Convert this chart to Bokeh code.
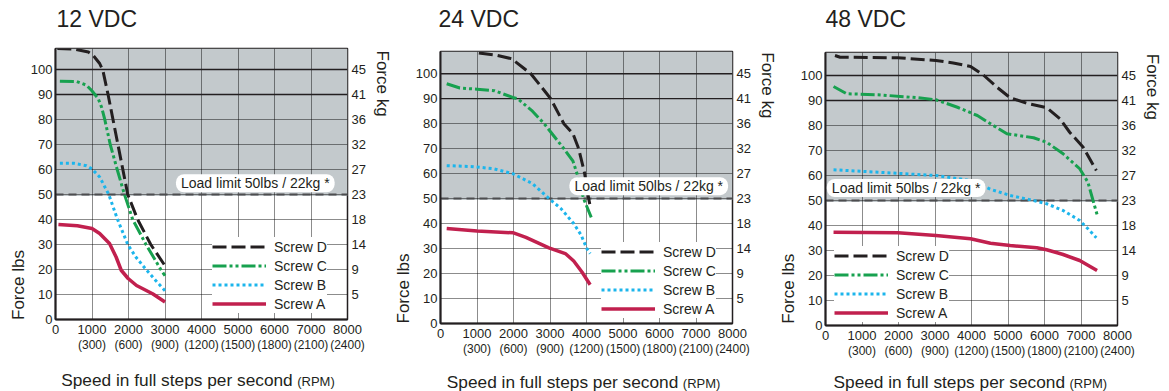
import math
from bokeh.plotting import figure
from bokeh.models import (Range1d, LinearAxis, FixedTicker, Label, Span,
                          Legend, LegendItem, BoxAnnotation)
from bokeh.layouts import row, column
from bokeh.embed import file_html
from bokeh.resources import INLINE

# ---------------- data ----------------
titles = ["12 VDC", "24 VDC", "48 VDC"]
speed_ticks = [0, 1000, 2000, 3000, 4000, 5000, 6000, 7000, 8000]
rpm_ticks = [1000, 2000, 3000, 4000, 5000, 6000, 7000, 8000]
rpm_labels = ["(300)", "(600)", "(900)", "(1200)", "(1500)", "(1800)", "(2100)", "(2400)"]
lbs_ticks = [0, 10, 20, 30, 40, 50, 60, 70, 80, 90, 100]
kg_ticks = [10, 20, 30, 40, 50, 60, 70, 80, 90, 100]
kg_labels = ["5", "9", "14", "18", "23", "27", "32", "36", "41", "45"]
load_limit_lbs = 50
load_limit_text = "Load limit 50lbs / 22kg *"
screw_names = ["Screw D", "Screw C", "Screw B", "Screw A"]
x_label = "Speed in full steps per second"
x_label_unit = "(RPM)"
y_label_left = "Force lbs"
y_label_right = "Force kg"

# 12 VDC
v12_d_speed = [50, 500, 900, 1030, 1210, 1300, 1440, 1575, 1710, 1845, 1980, 2250, 2610, 3000]
v12_d_force = [108.4, 108.2, 107, 105.7, 102.4, 99.5, 90, 80, 70, 60, 50, 40, 30, 21.5]
v12_c_speed = [120, 580, 850, 985, 1170, 1260, 1350, 1500, 1690, 1890, 2115, 2480, 2885, 3000]
v12_c_force = [95.3, 95.2, 93.7, 91.7, 88.4, 85, 80, 70, 60, 50, 40, 30, 20, 17.5]
v12_b_speed = [120, 500, 850, 1000, 1210, 1460, 1700, 1980, 2200, 2480, 2750, 3000]
v12_b_force = [62.5, 62.5, 61.5, 60.2, 57, 50, 40, 30, 25, 20, 15.5, 11.5]
v12_a_speed = [80, 600, 1000, 1210, 1480, 1660, 1800, 1990, 2220, 2660, 3000]
v12_a_force = [38, 37.5, 36.4, 34.4, 30.4, 25, 19.7, 16.4, 13.6, 10.3, 7]

# 24 VDC
v24_d_speed = [1050, 1500, 1950, 2300, 2475, 2750, 3020, 3380, 3630, 3785, 3950, 4060, 4100]
v24_d_force = [108.3, 107.5, 106, 102, 100, 95, 90, 80, 76, 70, 60, 50, 47]
v24_c_speed = [170, 530, 1000, 1480, 1980, 2115, 2520, 2840, 3380, 3630, 3740, 3920, 4130]
v24_c_force = [96, 94.3, 93.8, 93.2, 90.5, 90, 85, 80, 70, 65, 60, 50, 42.5]
v24_b_speed = [170, 900, 1440, 1980, 2520, 2975, 3300, 3650, 3850, 4010, 4100]
v24_b_force = [63.2, 62.8, 62, 60, 56, 50, 46, 40, 35.5, 30, 28]
v24_a_speed = [170, 1000, 2000, 2340, 2970, 3420, 3650, 3880, 4100]
v24_a_force = [38, 37, 36.3, 34.5, 30.3, 28, 25, 20.5, 15.5]

# 48 VDC
v48_d_speed = [260, 400, 1980, 3025, 3500, 3975, 4340, 4700, 5060, 5515, 6060, 6420, 6690, 7060, 7420]
v48_d_force = [108, 107.3, 107.1, 106, 105, 103.6, 100, 95.3, 91.1, 88.9, 87.1, 82.7, 77.3, 71.3, 62]
v48_c_speed = [220, 580, 1440, 2530, 3025, 3615, 4160, 4520, 4970, 5700, 6060, 6510, 6965, 7190, 7330, 7440]
v48_c_force = [95.6, 92.7, 92.3, 91.1, 90.3, 87.3, 84, 80.7, 76.7, 75.1, 73.3, 68.7, 62.7, 57.3, 50, 44.4]
v48_b_speed = [220, 1440, 3025, 3975, 4520, 5060, 5700, 6060, 6510, 6965, 7190, 7420]
v48_b_force = [62.3, 61.3, 60, 58, 54.5, 52, 50, 48.7, 46, 42, 38.7, 35.1]
v48_a_speed = [220, 1985, 3025, 3975, 4520, 5060, 5790, 6060, 6510, 6965, 7440]
v48_a_force = [37.3, 37.1, 36, 34.7, 32.9, 32, 31.1, 30.3, 28.4, 26, 22]

panels_data = [
    [(v12_d_speed, v12_d_force), (v12_c_speed, v12_c_force), (v12_b_speed, v12_b_force), (v12_a_speed, v12_a_force)],
    [(v24_d_speed, v24_d_force), (v24_c_speed, v24_c_force), (v24_b_speed, v24_b_force), (v24_a_speed, v24_a_force)],
    [(v48_d_speed, v48_d_force), (v48_c_speed, v48_c_force), (v48_b_speed, v48_b_force), (v48_a_speed, v48_a_force)],
]

# ---------------- styles ----------------
FONT = "Liberation Sans"
TXT = "#231f20"
BAND = "#c3c9cc"
screw_styles = [
    dict(line_color="#231f20", line_width=3, line_dash="14 5"),
    dict(line_color="#17a14f", line_width=3, line_dash="14 3 3 3 3 3"),
    dict(line_color="#1cb5ec", line_width=3, line_dash="3 3"),
    dict(line_color="#c1204e", line_width=3.5, line_dash="solid"),
]

TOP_H, MAIN_H, BOT_H = 32, 336, 23

# per-panel geometry; side labels use the main frame's force scale (their frames are aligned)
geoms = [
    dict(w_left=27, w_right=23, bl=25, br=23, bt=16, bb=49, ymax=108.4,
         title_x=56, title_y=14, ylab=(17.5, -0.2), klab=(11.9, 107.6),
         lim_xy=(5474, 54.5), leg=(157, 6), xlab=(60.7, 12), rpm=(296.7, 10.5), lstand=3),
    dict(w_left=19, w_right=23, bl=25, br=23, bt=19, bb=45, ymax=108.9,
         title_x=45, title_y=14, ylab=(9.5, 0), klab=(11.9, 108.6),
         lim_xy=(5705, 55), leg=(161, 5), xlab=(53.3, 9.8), rpm=(289.3, 8.3), lstand=3),
    dict(w_left=19, w_right=29, bl=25, br=23, bt=20, bb=43, ymax=109.2,
         title_x=47, title_y=13.3, ylab=(9.5, 0.7), klab=(11.9, 108.7),
         lim_xy=(2210, 55), leg=(9, 3), xlab=(55, 9.8), rpm=(291, 8.3), lstand=3),
]


def style_axis(ax, size="13px"):
    ax.major_label_text_font = FONT
    ax.major_label_text_font_size = size
    ax.major_label_text_color = TXT
    ax.major_tick_line_color = None
    ax.minor_tick_line_color = None
    ax.major_tick_out = 0
    ax.major_tick_in = 0
    ax.minor_tick_out = 0
    ax.minor_tick_in = 0


def text_fig(width, height, y_range=None):
    f = figure(width=width, height=height, x_range=Range1d(0, width),
               y_range=y_range if y_range is not None else Range1d(0, height),
               output_backend="svg", toolbar_location=None, min_border=0,
               x_axis_location=None, y_axis_location=None)
    f.outline_line_color = None
    f.background_fill_color = "white"
    f.border_fill_color = "white"
    f.grid.visible = False
    return f


def text_label(x, y, text, size, angle=0.0):
    return Label(x=x, y=y, text=text, angle=angle, text_align="left", text_baseline="middle",
                 text_font=FONT, text_font_size=size, text_color=TXT)


def make_main(curves, g):
    width = g["bl"] + 295 + g["br"]
    p = figure(width=width, height=MAIN_H, x_range=Range1d(0, 8000), y_range=Range1d(0, g["ymax"]),
               output_backend="svg", toolbar_location=None,
               min_border_left=g["bl"], min_border_right=g["br"],
               min_border_top=g["bt"], min_border_bottom=g["bb"])
    p.background_fill_color = "white"
    p.border_fill_color = "white"
    p.outline_line_color = TXT
    p.outline_line_width = 1.5

    p.add_layout(BoxAnnotation(bottom=load_limit_lbs - 0.6, fill_color=BAND, fill_alpha=1,
                               line_color=None, level="image"))

    xa = p.xaxis[0]
    xa.ticker = FixedTicker(ticks=speed_ticks)
    style_axis(xa)
    xa.axis_line_color = TXT
    xa.axis_line_width = 2
    xa.major_label_standoff = 5

    ra = LinearAxis(ticker=FixedTicker(ticks=rpm_ticks),
                    major_label_overrides={t: l for t, l in zip(rpm_ticks, rpm_labels)})
    style_axis(ra, "12px")
    ra.axis_line_color = None
    ra.major_label_standoff = 1
    p.add_layout(ra, "below")

    ya = p.yaxis[0]
    ya.ticker = FixedTicker(ticks=lbs_ticks)
    style_axis(ya)
    ya.axis_line_color = TXT
    ya.axis_line_width = 2
    ya.major_label_standoff = g["lstand"]

    ka = LinearAxis(ticker=FixedTicker(ticks=kg_ticks),
                    major_label_overrides={t: l for t, l in zip(kg_ticks, kg_labels)})
    style_axis(ka)
    ka.axis_line_color = None
    ka.major_label_standoff = 4
    p.add_layout(ka, "right")

    p.xgrid.ticker = FixedTicker(ticks=speed_ticks[1:-1])
    p.ygrid.ticker = FixedTicker(ticks=[t for t in lbs_ticks if 0 < t < 90])
    for gr in (p.xgrid[0], p.ygrid[0]):
        gr.grid_line_color = "black"
        gr.grid_line_alpha = 0.45
        gr.grid_line_width = 1
    for loc in (90, 100):
        p.add_layout(Span(location=loc, dimension="width", line_color=TXT,
                          line_width=1.3, level="underlay"))
    p.add_layout(Span(location=load_limit_lbs, dimension="width", line_color="#4d4d4f",
                      line_width=2, line_dash="8 5", level="underlay"))

    rends = [None] * 4
    for i in reversed(range(4)):
        xs, ys = curves[i]
        rends[i] = p.line(xs, ys, line_join="round", **screw_styles[i])

    legend = Legend(items=[LegendItem(label=screw_names[i], renderers=[rends[i]]) for i in range(4)],
                    location=g["leg"], glyph_width=54, glyph_height=19, label_height=19,
                    spacing=0, padding=4, margin=0, label_standoff=8,
                    border_line_color=None, background_fill_color="white", background_fill_alpha=1,
                    label_text_font=FONT, label_text_font_size="14px", label_text_color=TXT)
    p.add_layout(legend)

    p.add_layout(Label(x=g["lim_xy"][0], y=g["lim_xy"][1], text=load_limit_text,
                       text_align="center", text_baseline="middle",
                       text_font=FONT, text_font_size="14px", text_color=TXT,
                       background_fill_color="white", background_fill_alpha=1,
                       border_radius=8, padding=dict(left=5, right=5, top=1, bottom=1)))
    return p, width


def make_column(title, curves, g):
    main, w_main = make_main(curves, g)
    w_col = g["w_left"] + w_main + g["w_right"]

    top = text_fig(w_col, TOP_H)
    top.add_layout(text_label(g["title_x"], g["title_y"], title, "23px"))

    left = text_fig(g["w_left"], MAIN_H, Range1d(0, g["ymax"]))
    left.add_layout(text_label(g["ylab"][0], g["ylab"][1], y_label_left, "17px", math.pi / 2))

    right = text_fig(g["w_right"], MAIN_H, Range1d(0, g["ymax"]))
    right.add_layout(text_label(g["klab"][0], g["klab"][1], y_label_right, "17px", -math.pi / 2))

    bot = text_fig(w_col, BOT_H)
    bot.add_layout(text_label(g["xlab"][0], g["xlab"][1], x_label, "17.3px"))
    bot.add_layout(text_label(g["rpm"][0], g["rpm"][1], x_label_unit, "13px"))

    return column(top, row(left, main, right), bot)


cols = [make_column(titles[i], panels_data[i], geoms[i]) for i in range(3)]
layout = row(*cols)
open("out.html", "w").write(file_html(layout, INLINE))
